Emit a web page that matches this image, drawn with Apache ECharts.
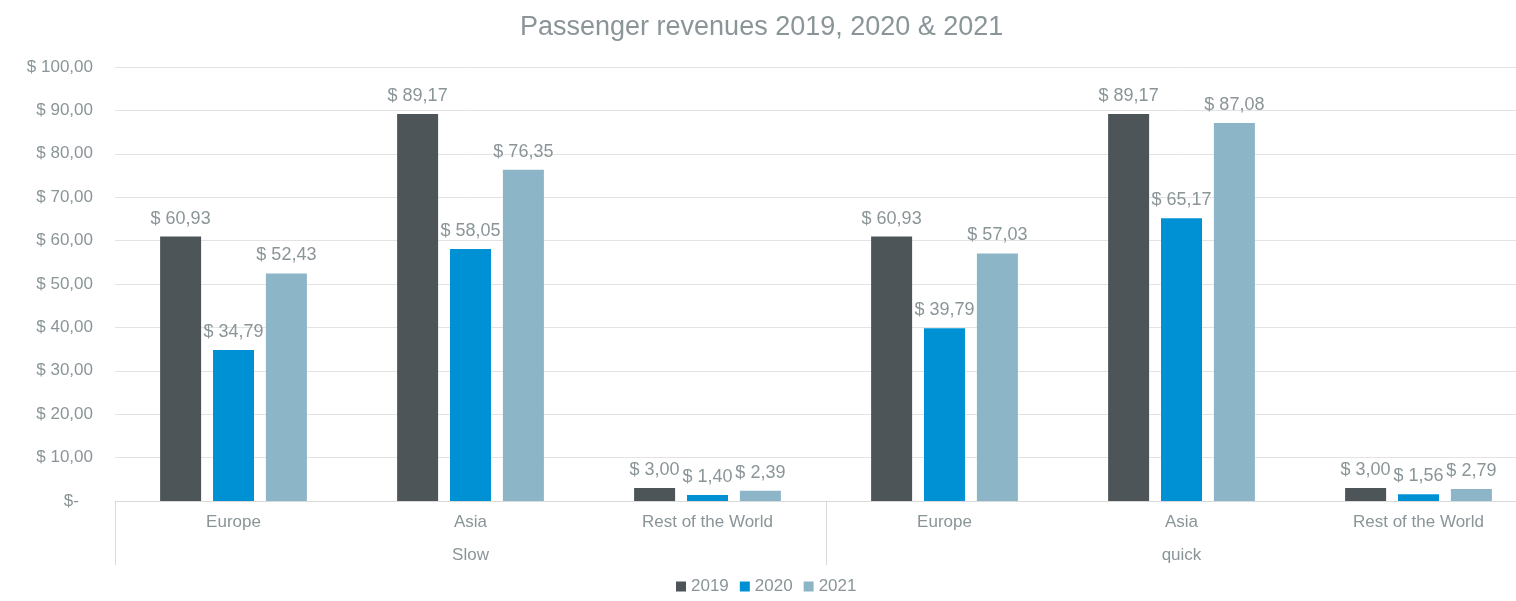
<!DOCTYPE html>
<html><head><meta charset="utf-8">
<script src="https://cdn.jsdelivr.net/npm/echarts@6/dist/echarts.min.js"></script>
<style>html,body{margin:0;padding:0;background:#fff;overflow:hidden;width:1516px;height:601px}#c{width:1537px;height:601px}</style>
</head><body><div id="c"></div>
<script>
const categories = ['Europe','Asia','Rest of the World','Europe','Asia','Rest of the World'];
const groups = ['Slow','quick'];
const seriesNames = ['2019','2020','2021'];
const values2019 = [60.93, 89.17, 3.00, 60.93, 89.17, 3.00];
const values2020 = [34.79, 58.05, 1.40, 39.79, 65.17, 1.56];
const values2021 = [52.43, 76.35, 2.39, 57.03, 87.08, 2.79];
const colors = ['#4d5558','#0091d5','#8db5c8'];

const font = 'Liberation Sans, Arial, sans-serif';
const textColor = '#8a9598';
const fmt = v => '$ ' + v.toFixed(2).replace('.', ',');

const chart = echarts.init(document.getElementById('c'));
const mk = (name, data, i) => ({
  name, type: 'bar', data, barWidth: 41, barGap: '29%',
  itemStyle: { color: colors[i] },
  label: { show: true, position: 'top', distance: 9, color: textColor, fontFamily: font, fontSize: 18,
    formatter: p => fmt(p.value) }
});
chart.setOption({
  animation: false,
  color: colors,
  title: { text: 'Passenger revenues 2019, 2020 & 2021', left: 515, top: 9,
    textStyle: { color: textColor, fontFamily: font, fontSize: 27, fontWeight: 'normal' } },
  legend: { bottom: 1, left: 671, icon: 'rect', itemWidth: 10, itemHeight: 10, itemGap: 11,
    textStyle: { color: textColor, fontFamily: font, fontSize: 17 }, data: seriesNames },
  grid: { left: 115, top: 67, right: 0, height: 434, containLabel: false },
  xAxis: [
    { type: 'category', data: categories, position: 'bottom',
      axisLine: { show: true, lineStyle: { color: '#d9d9d9' } },
      axisTick: { show: false },
      axisLabel: { color: textColor, fontFamily: font, fontSize: 17, margin: 13 } },
    { type: 'category', data: groups, position: 'bottom',
      axisLine: { show: false },
      axisTick: { show: true, length: 64, lineStyle: { color: '#d9d9d9' } },
      axisLabel: { color: textColor, fontFamily: font, fontSize: 17, margin: 46 } }
  ],
  yAxis: { type: 'value', min: 0, max: 100, interval: 10,
    axisLine: { show: false }, axisTick: { show: false },
    splitLine: { lineStyle: { color: '#e3e3e3' } },
    axisLabel: { color: textColor, fontFamily: font, fontSize: 17, margin: 22,
      formatter: v => v === 0 ? '$-   ' : fmt(v) } },
  series: [mk('2019', values2019, 0), mk('2020', values2020, 1), mk('2021', values2021, 2)]
});
</script></body></html>
